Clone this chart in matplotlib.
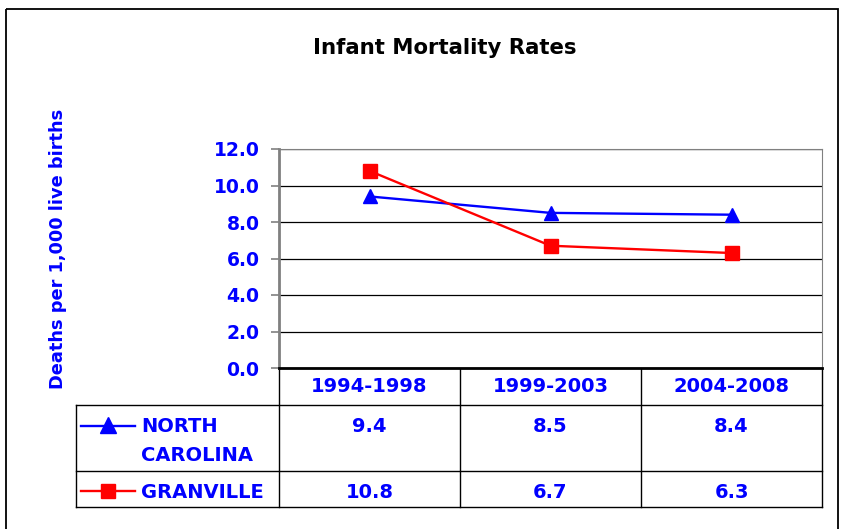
import matplotlib
matplotlib.use('Agg')
from matplotlib import pyplot as plt
from matplotlib.transforms import blended_transform_factory
from matplotlib.patches import Rectangle

periods = ['1994-1998', '1999-2003', '2004-2008']
north_carolina = [9.4, 8.5, 8.4]
granville = [10.8, 6.7, 6.3]
series_names = ['NORTH\nCAROLINA', 'GRANVILLE']
yticks = [0, 2, 4, 6, 8, 10, 12]

blue = '#0000FF'
red = '#FF0000'
W, H = 841, 529

plt.rcParams['font.family'] = ['DejaVu Sans']
fig = plt.figure(figsize=(W / 100, H / 100), dpi=100)


def frac(x0, y0, x1, y1):
    # pixel box (y from top) -> figure fraction
    return [x0 / W, 1 - y1 / H, (x1 - x0) / W, (y1 - y0) / H]


# overlay in pixel coordinates for the frame and the data table
ax_t = fig.add_axes([0, 0, 1, 1])
ax_t.set_xlim(0, W)
ax_t.set_ylim(H, 0)
ax_t.axis('off')

ax = fig.add_axes(frac(279, 149, 822, 368))
x = range(len(periods))
ax.plot(x, north_carolina, color=blue, lw=1.7, marker='^', ms=10.5, zorder=3)
ax.plot(x, granville, color=red, lw=1.7, marker='s', ms=10.5, zorder=3)
ax.set_xlim(-0.5, len(periods) - 0.5)
ax.set_ylim(0, 12)
ax.set_yticks(yticks)
ax.set_yticklabels([f'{v:.1f}' for v in yticks])
ax.set_xticks([])
ax.grid(axis='y', color='black', lw=0.9)
ax.set_axisbelow(True)
ax.tick_params(axis='y', colors='#808080', length=6, width=1.2, pad=8,
               labelcolor=blue, labelsize=13.5)
for lab in ax.get_yticklabels():
    lab.set_fontweight('bold')
ax.spines['left'].set_color('#808080')
ax.spines['left'].set_linewidth(2)
ax.spines['bottom'].set_color('black')
ax.spines['bottom'].set_linewidth(2)
ax.spines['top'].set_color('#808080')
ax.spines['right'].set_color('#808080')

fig.text(445 / W, 1 - 48 / H, 'Infant Mortality Rates', ha='center', va='center',
         fontsize=15.3, fontweight='bold', color='black')
fig.text(58 / W, 1 - 249 / H, 'Deaths per 1,000 live births', rotation=90,
         ha='center', va='center', fontsize=12.8, fontweight='bold', color=blue)

# outer frame
ax_t.add_patch(Rectangle((6, 9), 832, 540, fill=False, ec='black', lw=1.3,
                         clip_on=False))

# data table
tr = blended_transform_factory(ax.transData, ax_t.transData)
lc = 'black'
for xv in [279, 460, 641, 822]:
    ax_t.plot([xv, xv], [368, 507], color=lc, lw=1)
ax_t.plot([76, 76], [405, 507], color=lc, lw=1)
for yv in [405, 471, 507]:
    ax_t.plot([76, 822], [yv, yv], color=lc, lw=1)

tkw = dict(ha='center', va='center', fontsize=14, fontweight='bold', color=blue)
for i, p in enumerate(periods):
    ax_t.text(i, 387, p, transform=tr, **tkw)
for i, v in enumerate(north_carolina):
    ax_t.text(i, 426, f'{v:.1f}', transform=tr, **tkw)
for i, v in enumerate(granville):
    ax_t.text(i, 492, f'{v:.1f}', transform=tr, **tkw)

# legend keys
ax_t.plot([81, 135], [426, 426], color=blue, lw=1.7)
ax_t.plot([108], [425], color=blue, marker='^', ms=11)
ax_t.plot([81, 135], [491, 491], color=red, lw=1.7)
ax_t.plot([108], [491], color=red, marker='s', ms=10.5)
ax_t.text(141, 441, series_names[0], ha='left', va='center', fontsize=14,
          fontweight='bold', color=blue, linespacing=1.62)
ax_t.text(141, 492, series_names[1], ha='left', va='center', fontsize=14,
          fontweight='bold', color=blue)

fig.savefig('out.png', dpi=100)
